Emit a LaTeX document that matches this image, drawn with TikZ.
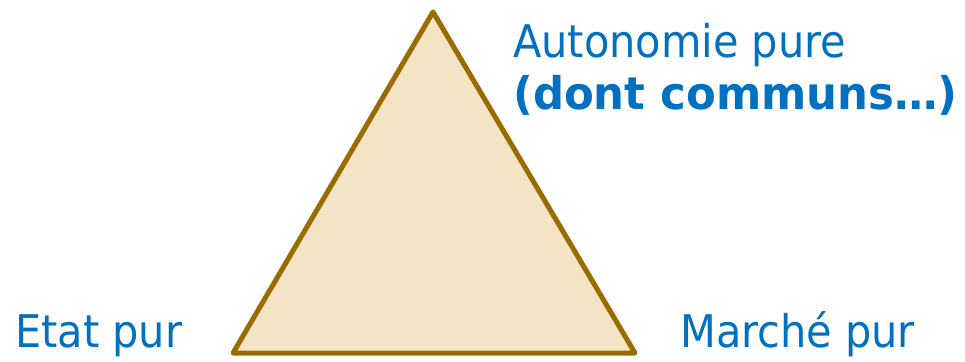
\documentclass[tikz,border=0pt]{standalone}
\usepackage{fontspec}
\setmainfont{DejaVu Sans Condensed}[FakeStretch=1.025]
\newfontfamily\widebold{DejaVu Sans}[FakeStretch=0.965]
\usepackage{xcolor}
\definecolor{cEdge}{HTML}{9A6C00}
\definecolor{cFill}{HTML}{F2E4C4}
\definecolor{cLab}{HTML}{0070C0}
\usetikzlibrary{positioning}

\begin{document}
\begin{tikzpicture}[x=1pt,y=1pt,
  lab/.style={anchor=base west,inner sep=0pt,text=cLab,font=\fontsize{45}{54}\selectfont},
  tri/.style={draw=cEdge,fill=cFill,line width=5pt,line join=round}]
\useasboundingbox (0,0) rectangle (965,361);

% --- triangle ---
\coordinate (top) at (433,349);
\coordinate (bl)  at (233,8);
\coordinate (br)  at (635,8);
\draw[tri] (top) -- (br) -- (bl) -- cycle;

% --- poles ---
\node[lab] (auto) at (513,303) {Autonomie pure};
\node[lab,font=\fontsize{45}{54}\widebold\bfseries] (comm) at (513,251) {(dont communs…)};
\node[lab] (etat) at (15,14) {Etat pur};
\node[lab] (marche) at (680,14) {Marché pur};
\end{tikzpicture}
\end{document}
